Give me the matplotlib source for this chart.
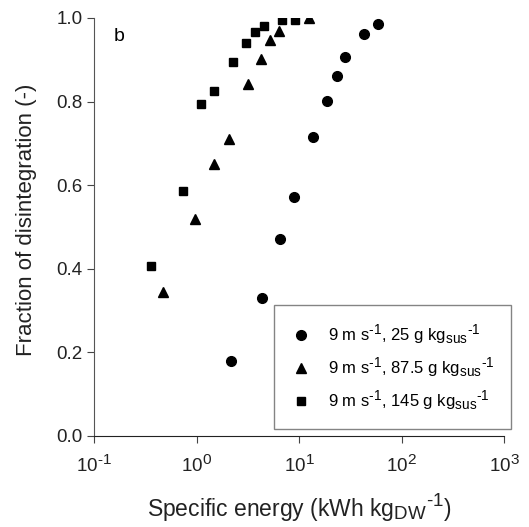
import matplotlib
matplotlib.use('Agg')
import matplotlib.pyplot as plt
import matplotlib._mathtext as mtext

plt.rcParams['font.family'] = ['Liberation Sans', 'DejaVu Sans']
plt.rcParams['mathtext.fontset'] = 'custom'
plt.rcParams['mathtext.rm'] = 'Liberation Sans'
plt.rcParams['mathtext.it'] = 'Liberation Sans'
plt.rcParams['mathtext.default'] = 'regular'
# scripts in the original are only a little smaller than the body text
mtext.SHRINK_FACTOR = 0.82

# Specific energy (kWh/kgDW) and fraction of disintegration for each solids load
energy_25 = [2.14, 4.33, 6.55, 8.89, 13.6, 18.5, 23.4, 28.1, 43.0, 58.6]
frac_25 = [0.179, 0.329, 0.471, 0.572, 0.714, 0.802, 0.860, 0.906, 0.962, 0.985]

energy_875 = [0.466, 0.966, 1.49, 2.06, 3.15, 4.20, 5.22, 6.30, 12.5]
frac_875 = [0.344, 0.519, 0.650, 0.710, 0.842, 0.902, 0.946, 0.969, 0.999]

energy_145 = [0.359, 0.731, 1.105, 1.47, 2.25, 3.00, 3.73, 4.50, 6.79, 9.19]
frac_145 = [0.407, 0.586, 0.794, 0.826, 0.894, 0.939, 0.966, 0.981, 0.994, 0.995]

labels = [r'9 m s$^{\text{-}1}$, 25 g kg$_{sus}{}^{\text{-}1}$',
          r'9 m s$^{\text{-}1}$, 87.5 g kg$_{sus}{}^{\text{-}1}$',
          r'9 m s$^{\text{-}1}$, 145 g kg$_{sus}{}^{\text{-}1}$']

xticks = [0.1, 1, 10, 100, 1000]
xticklabels = [r'10$^{\text{-}1}$', r'10$^{0}$', r'10$^{1}$', r'10$^{2}$', r'10$^{3}$']
yticks = [0, 0.2, 0.4, 0.6, 0.8, 1.0]
yticklabels = ['0.0', '0.2', '0.4', '0.6', '0.8', '1.0']

fig = plt.figure(figsize=(5.29, 5.27), dpi=100)
ax = fig.add_axes([0.178, 0.173, 0.775, 0.793])

ax.plot(energy_25, frac_25, 'o', color='black', ms=7, label=labels[0])
ax.plot(energy_875, frac_875, '^', color='black', ms=7, label=labels[1])
ax.plot(energy_145, frac_145, 's', color='black', ms=6.3, label=labels[2])

ax.set_xscale('log')
ax.set_xlim(0.1, 1000)
ax.set_ylim(0, 1.0)
ax.set_xticks(xticks)
ax.set_xticklabels(xticklabels)
ax.xaxis.set_minor_locator(matplotlib.ticker.NullLocator())
ax.set_yticks(yticks)
ax.set_yticklabels(yticklabels)

for s in ['top', 'right']:
  ax.spines[s].set_visible(False)
ax.spines['left'].set_color('#555555')
ax.spines['bottom'].set_color('#222222')
ax.tick_params(axis='both', direction='out', length=5, width=0.8,
               color='#444444', labelsize=13.5, colors='#222222')
ax.tick_params(axis='x', pad=8)

ax.set_xlabel(r'Specific energy (kWh kg$_{DW}{}^{\text{-}1}$)', fontsize=16.5, color='#222222', labelpad=12)
ax.set_ylabel('Fraction of disintegration (-)', fontsize=16, color='#222222')
ax.yaxis.set_label_coords(-0.14, 0.517)

ax.text(0.048, 0.975, 'b', transform=ax.transAxes, fontsize=14, va='top', ha='left')

leg = ax.legend(loc='lower right', bbox_to_anchor=(1.016, 0.016), borderaxespad=0,
                fontsize=12, frameon=True, fancybox=False, handletextpad=1.0,
                labelspacing=0.6, borderpad=1.0, handlelength=1.2)
leg.get_frame().set_edgecolor('#666666')
leg.get_frame().set_linewidth(1.0)
leg.set_clip_on(False)

fig.savefig('out.png', dpi=100)
